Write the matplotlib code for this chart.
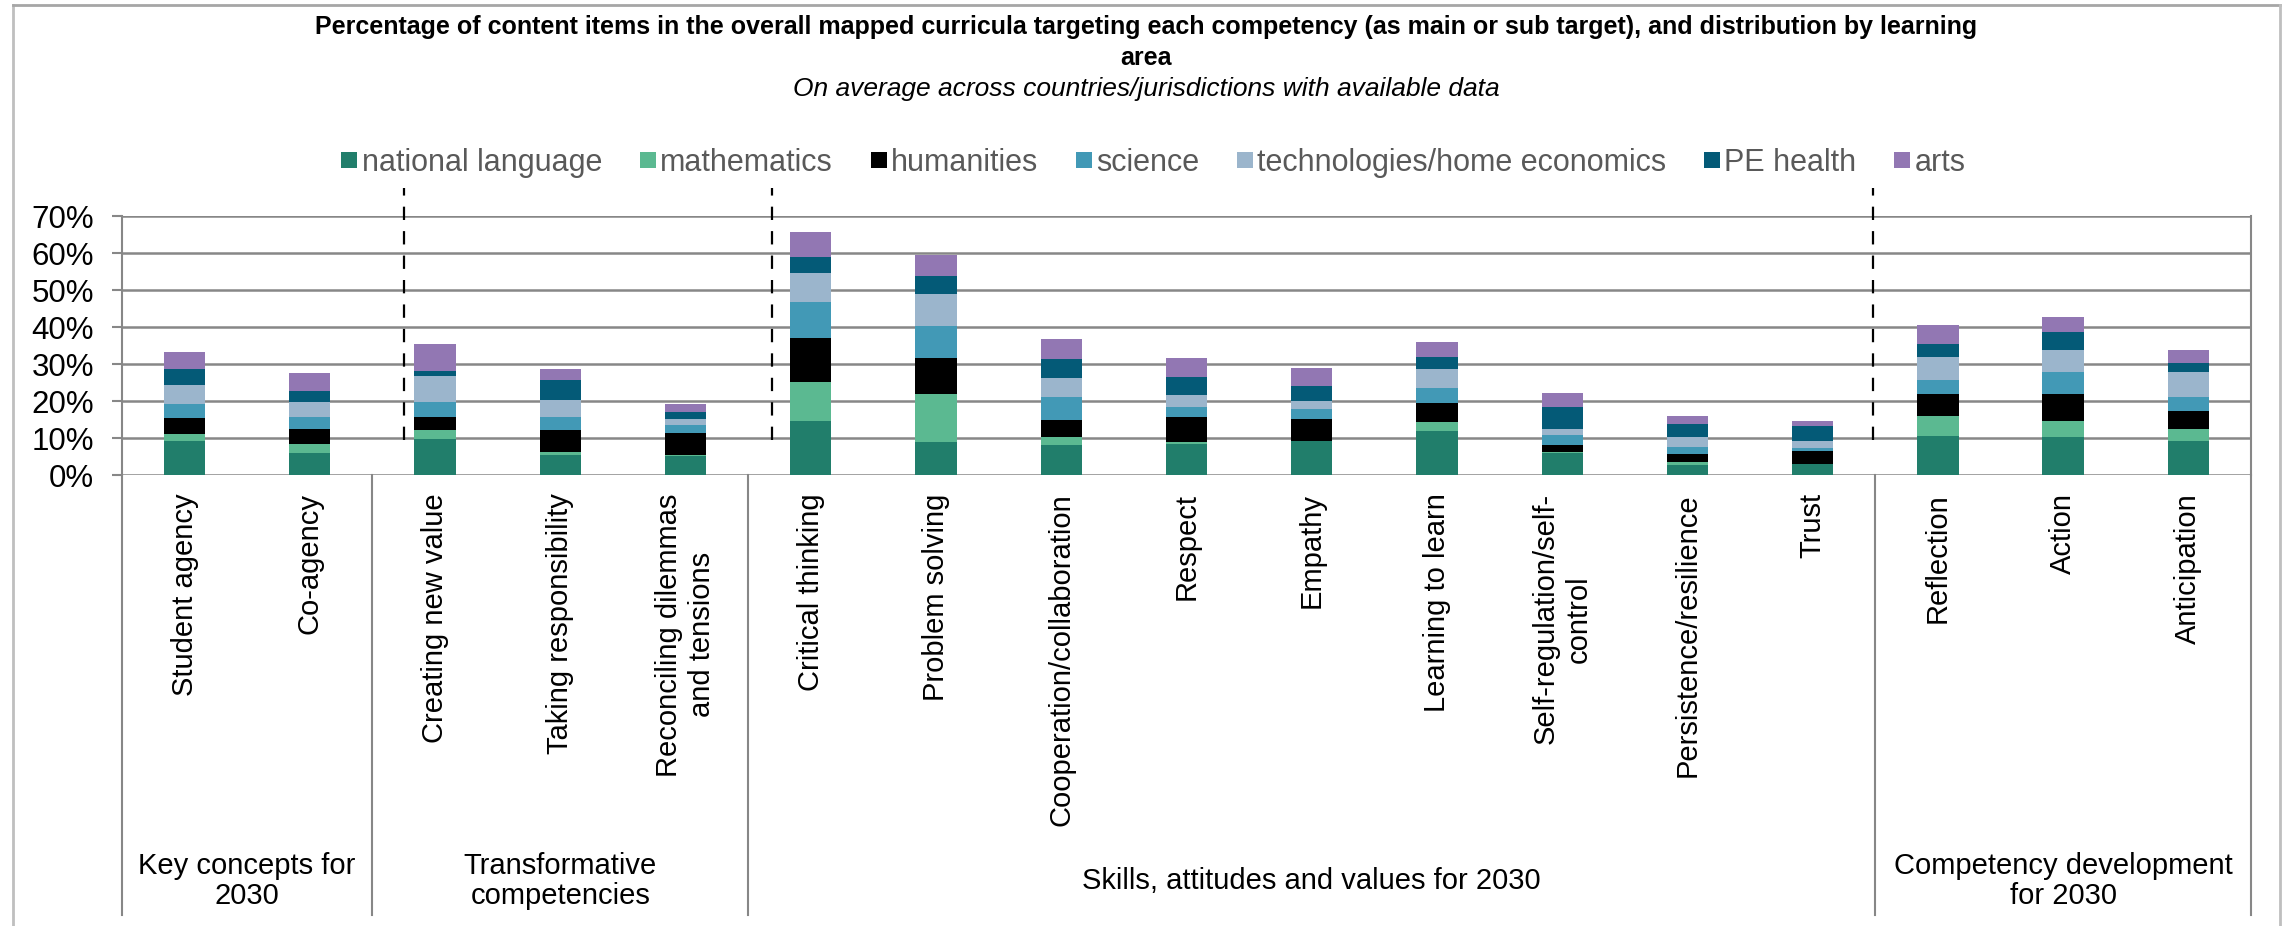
import matplotlib
matplotlib.use('Agg')
import matplotlib.pyplot as plt
from matplotlib.ticker import PercentFormatter
from matplotlib.lines import Line2D

plt.rcParams['font.family'] = ['Liberation Sans', 'DejaVu Sans']

# Competencies along the x axis
categories = ['Student agency', 'Co-agency', 'Creating new value',
              'Taking responsibility', 'Reconciling dilemmas\nand tensions',
              'Critical thinking', 'Problem solving', 'Cooperation/collaboration',
              'Respect', 'Empathy', 'Learning to learn', 'Self-regulation/self-\ncontrol',
              'Persistence/resilience', 'Trust', 'Reflection', 'Action', 'Anticipation']

# Share of content items (%) by learning area
national_language = [9.3, 6.0, 9.7, 5.4, 5.2, 14.5, 8.9, 8.1, 8.4, 9.1, 11.8, 6.1, 2.8, 2.9, 10.6, 10.3, 9.1]
mathematics = [1.8, 2.4, 2.5, 0.8, 0.3, 10.6, 13.0, 2.1, 0.6, 0.2, 2.6, 0.2, 0.8, 0.1, 5.4, 4.3, 3.5]
humanities = [4.4, 4.1, 3.6, 6.0, 5.8, 12.1, 9.8, 4.8, 6.8, 6.0, 5.2, 1.8, 2.1, 3.6, 5.9, 7.3, 4.8]
science = [3.7, 3.3, 4.1, 3.6, 2.3, 9.7, 8.6, 6.1, 2.7, 2.6, 4.0, 2.7, 1.8, 0.8, 3.9, 6.1, 3.8]
technologies = [5.1, 4.1, 7.0, 4.6, 1.6, 7.7, 8.7, 5.1, 3.3, 2.2, 5.0, 1.6, 2.9, 1.9, 6.2, 5.9, 6.6]
pe_health = [4.5, 2.9, 1.2, 5.3, 2.0, 4.4, 4.9, 5.3, 4.7, 3.9, 3.4, 6.1, 3.4, 4.0, 3.4, 4.8, 2.6]
arts = [4.6, 4.7, 7.4, 3.0, 2.0, 6.7, 5.7, 5.4, 5.1, 5.1, 4.0, 3.7, 2.2, 1.4, 5.3, 4.0, 3.5]

series_names = ['national language', 'mathematics', 'humanities', 'science',
                'technologies/home economics', 'PE health', 'arts']
series_colors = ['#217E6B', '#5BB991', '#000000', '#4299B6', '#9BB5CC', '#045A77', '#9277B3']

# Groups of competencies and where they start/end on the x axis
group_labels = ['Key concepts for\n2030', 'Transformative\ncompetencies',
                'Skills, attitudes and values for 2030', 'Competency development\nfor 2030']
group_bounds = [0, 2, 5, 14, 17]
dashed_x = [2.25, 5.19, 13.98]

fig = plt.figure(figsize=(22.92, 9.26), dpi=100)
ax = fig.add_axes([0.0532, 0.487, 0.9289, 0.2792])

# Stacked bars
x = [i + 0.5 for i in range(len(categories))]
bottom = [0.0] * len(categories)
all_series = [national_language, mathematics, humanities, science, technologies, pe_health, arts]
for vals, name, col in zip(all_series, series_names, series_colors):
    ax.bar(x, vals, width=0.33, bottom=bottom, color=col, label=name, zorder=3, linewidth=0)
    bottom = [b + v for b, v in zip(bottom, vals)]

ax.set_xlim(0, len(categories))
ax.set_ylim(0, 70)
ax.set_yticks(range(0, 71, 10))
ax.yaxis.set_major_formatter(PercentFormatter(decimals=0))
ax.tick_params(axis='y', labelsize=22.5, length=7, width=1.5, color='#878787', pad=13)
ax.set_xticks([])
ax.grid(axis='y', color='#878787', linewidth=1.8, zorder=0)

for side in ['top', 'bottom']:
    ax.spines[side].set_visible(False)
for side in ['left', 'right']:
    ax.spines[side].set_color('#878787')
    ax.spines[side].set_linewidth(1.5)

trans = ax.get_xaxis_transform()

# Category labels, rotated below the axis
for xi, cat in zip(x, categories):
    ax.text(xi, -0.07, cat, transform=trans, rotation=90, ha='center', va='top',
            fontsize=21, multialignment='center')

# Group separators and labels
for b in group_bounds:
    ax.plot([b, b], [0, -1.702], transform=trans, color='#878787', linewidth=1.5, clip_on=False)
for i, lab in enumerate(group_labels):
    mid = (group_bounds[i] + group_bounds[i + 1]) / 2
    ax.text(mid, -1.571, lab, transform=trans, ha='center', va='center',
            fontsize=21, linespacing=1.1)

# Dashed dividers between the competency groups
for dx in dashed_x:
    ax.plot([dx, dx], [9.5, 77.7], color='black', linewidth=1.6,
            linestyle=(0, (6, 5)), clip_on=False, zorder=4)

# Legend above the plot
handles = [Line2D([0], [0], marker='s', linestyle='none', markersize=11,
                  markerfacecolor=c, markeredgewidth=0) for c in series_colors]
fig.legend(handles, series_names, loc='center', bbox_to_anchor=(0.503, 0.824), ncol=7,
           frameon=False, fontsize=22, handlelength=0.6, handletextpad=0.1,
           columnspacing=1.2, labelcolor='#595959')

# Titles
fig.text(0.5, 0.971, 'Percentage of content items in the overall mapped curricula targeting each '
         'competency (as main or sub target), and distribution by learning',
         ha='center', va='center', fontsize=18, fontweight='bold')
fig.text(0.5, 0.937, 'area', ha='center', va='center', fontsize=18, fontweight='bold')
fig.text(0.5, 0.904, 'On average across countries/jurisdictions with available data',
         ha='center', va='center', fontsize=19, style='italic')

# Outer frame
fig.add_artist(Line2D([13 / 2292, 13 / 2292], [0, 1 - 5 / 926], color='#BFBFBF', linewidth=2))
fig.add_artist(Line2D([13 / 2292, 2280 / 2292], [1 - 5 / 926, 1 - 5 / 926], color='#A6A6A6', linewidth=2))
fig.add_artist(Line2D([2280 / 2292, 2280 / 2292], [0, 1 - 5 / 926], color='#BFBFBF', linewidth=2))

fig.savefig('out.png', dpi=100)
